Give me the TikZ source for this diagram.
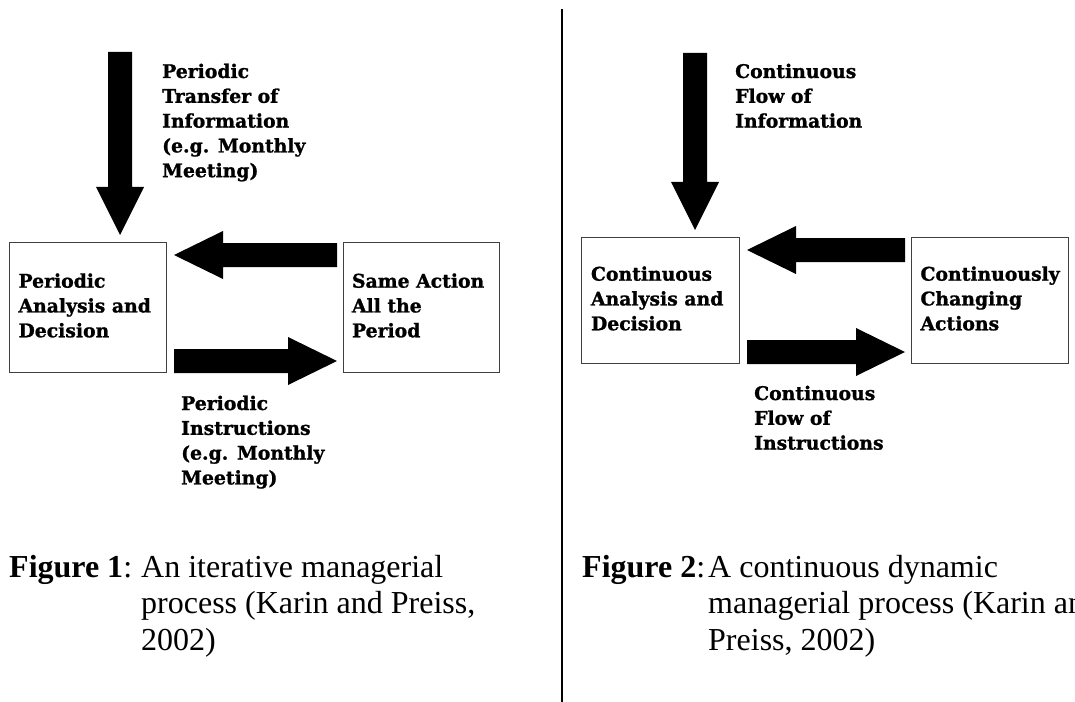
\documentclass[tikz,border=0pt]{standalone}
\usepackage{fontspec}
\setmainfont{Liberation Serif}
\newfontfamily\dfont{DejaVu Serif}[BoldFeatures={FakeBold=1.2}]
\usetikzlibrary{calc}
\newcommand\dlabel{\dfont\bfseries\fontsize{18.8bp}{24.8bp}\selectfont}
\newcommand\capfont{\fontsize{32bp}{36.5bp}\selectfont}
\newcommand\toplines[1]{\begin{tabular}[t]{@{}l@{}}#1\end{tabular}}
\newcommand\midlines[1]{\makebox[139bp][l]{\begin{tabular}{@{}l@{}}#1\end{tabular}}}
\tikzset{
  box/.style={draw=black!75, line width=1bp, inner sep=0pt, anchor=north west, font=\dlabel},
  lab/.style={anchor=base west, inner sep=0pt, font=\dlabel},
  captext/.style={anchor=base west, inner sep=0pt, font=\capfont},
  divider/.style={line width=2bp, black},
  blockarrow/.style={fill=black},
}
% horizontal block arrow: tail, tip, direction (1 right, -1 left)
\newcommand\harrow[3]{%
  \fill[blockarrow] ($(#1)+(0,-12)$) -- ($(#2)+(-49*#3,-12)$) -- ($(#2)+(-49*#3,-24)$) -- (#2)
    -- ($(#2)+(-49*#3,24)$) -- ($(#2)+(-49*#3,12)$) -- ($(#1)+(0,12)$) -- cycle;}
% vertical (downward) block arrow: top, tip
\newcommand\varrow[2]{%
  \fill[blockarrow] ($(#1)+(-12,0)$) -- ($(#2)+(-12,-48)$) -- ($(#2)+(-24,-48)$) -- (#2)
    -- ($(#2)+(24,-48)$) -- ($(#2)+(12,-48)$) -- ($(#1)+(12,0)$) -- cycle;}
\begin{document}
\begin{tikzpicture}[x=1bp,y=-1bp]
\useasboundingbox (0,0) rectangle (1075,702);

% ---------------- left panel ----------------
\node[box, minimum width=157bp, minimum height=130bp] (B1) at (9,242)
  {\midlines{Periodic\\Analysis and\\Decision}};
\node[box, minimum width=156bp, minimum height=130bp] (B2) at (343,242)
  {\midlines{Same Action\\All the\\Period}};

\coordinate (T1) at (120,52);
\coordinate (V1) at ($(B1.north west)+(111,-7)$);
\varrow{T1}{V1}

\coordinate (A2t) at ($(B2.north west)+(-6,13)$);
\coordinate (A2h) at ($(B1.north east)+(7,13)$);
\harrow{A2t}{A2h}{-1}

\coordinate (A3t) at ($(B1.south east)+(7,-12)$);
\coordinate (A3h) at ($(B2.south west)+(-6,-12)$);
\harrow{A3t}{A3h}{1}

\node[lab] (L1) at (162,78)
  {\toplines{Periodic\\Transfer of\\Information\\(e.g. Monthly\\Meeting)}};
\node[lab] (L2) at (181,410)
  {\toplines{Periodic\\Instructions\\(e.g. Monthly\\Meeting)}};

\node[captext] (C1) at (9,577)
  {\begin{tabular}[t]{@{}p{132bp}@{}l@{}}
   \textbf{Figure 1}: & An iterative managerial\\
   & process (Karin and Preiss,\\
   & 2002)
   \end{tabular}};

% ---------------- divider ----------------
\draw[divider] (562,9) -- (562,702);

% ---------------- right panel ----------------
\node[box, minimum width=158bp, minimum height=126bp] (B3) at (581,237)
  {\midlines{Continuous\\Analysis and\\Decision}};
\node[box, minimum width=157bp, minimum height=126bp] (B4) at (911,237)
  {\midlines{Continuously\\Changing\\Actions}};

\coordinate (T2) at (695,53);
\coordinate (V2) at ($(B3.north west)+(114,-7)$);
\varrow{T2}{V2}

\coordinate (A5t) at ($(B4.north west)+(-6,13)$);
\coordinate (A5h) at ($(B3.north east)+(7,13)$);
\harrow{A5t}{A5h}{-1}

\coordinate (A6t) at ($(B3.south east)+(7,-12)$);
\coordinate (A6h) at ($(B4.south west)+(-6,-12)$);
\harrow{A6t}{A6h}{1}

\node[lab] (L3) at (735,78)
  {\toplines{Continuous\\Flow of\\Information}};
\node[lab] (L4) at (754,400)
  {\toplines{Continuous\\Flow of\\Instructions}};

\node[captext] (C2) at (582,577)
  {\begin{tabular}[t]{@{}p{126bp}@{}l@{}}
   \textbf{Figure 2}: & A continuous dynamic\\
   & managerial process (Karin and\\
   & Preiss, 2002)
   \end{tabular}};
\end{tikzpicture}
\end{document}
